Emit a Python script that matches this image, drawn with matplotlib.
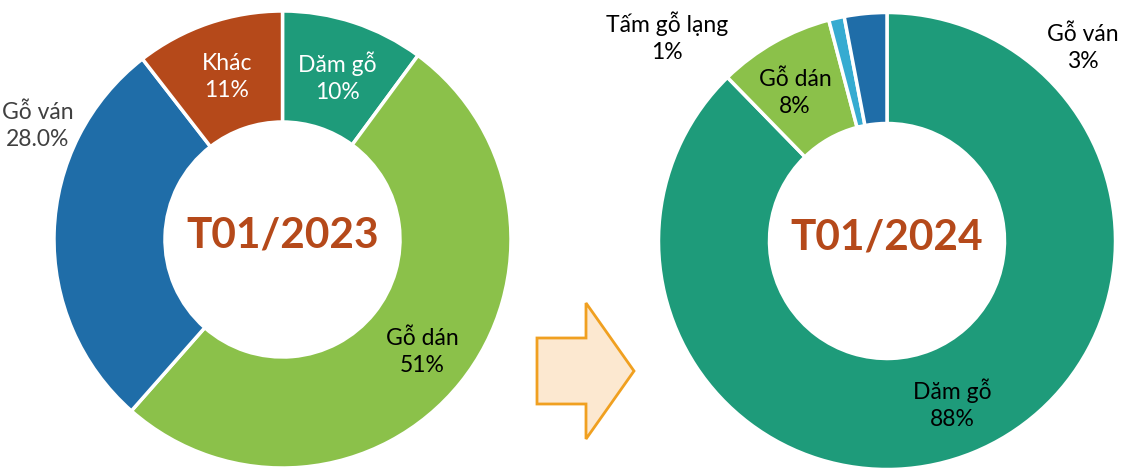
import numpy as np
import matplotlib
matplotlib.use('Agg')
import matplotlib.pyplot as plt
from matplotlib.patches import Polygon

plt.rcParams['font.family'] = ['Lato', 'Noto Sans', 'DejaVu Sans']

# --- data ---
cats_2023 = ['Dăm gỗ', 'Gỗ dán', 'Gỗ ván', 'Khác']
vals_2023 = [10.1, 51.4, 28.0, 10.5]
pct_2023 = ['10%', '51%', '28.0%', '11%']

cats_2024 = ['Dăm gỗ', 'Gỗ dán', 'Tấm gỗ lạng', 'Gỗ ván']
vals_2024 = [87.7, 8.2, 1.1, 3.0]
pct_2024 = ['88%', '8%', '1%', '3%']

colors = {
    'Dăm gỗ': '#1E9B7A',
    'Gỗ dán': '#8BC14A',
    'Gỗ ván': '#1F6DA8',
    'Khác': '#B5491A',
    'Tấm gỗ lạng': '#36ABD1',
}
title_color = '#B5491A'

W, H = 1140, 470
fig = plt.figure(figsize=(W / 100, H / 100), dpi=100)
ax = fig.add_axes([0, 0, 1, 1])


def donut(cx, cy, vals, cats):
    # cy is pixel row from top
    ax.pie(vals, colors=[colors[c] for c in cats], startangle=90, counterclock=False,
           center=(cx, H - cy), radius=228.5,
           wedgeprops=dict(width=111, edgecolor='white', linewidth=2.5))


donut(282.5, 239.5, vals_2023, cats_2023)
donut(887, 241, vals_2024, cats_2024)

# data labels (pixel positions from top-left)
lbl_2023 = {
    'Dăm gỗ': ((337, 77), 'white'),
    'Khác': ((227, 77), 'white'),
    'Gỗ ván': ((38, 126), '#404040'),
    'Gỗ dán': ((422, 352), 'black'),
}
for c, p in zip(cats_2023, pct_2023):
    (x, y), col = lbl_2023[c]
    ax.text(x, H - y, f'{c}\n{p}', ha='center', va='center', fontsize=16.5,
            color=col, linespacing=1.35)

lbl_2024 = {
    'Dăm gỗ': ((952, 404), 'black'),
    'Gỗ dán': ((795, 93), 'black'),
    'Tấm gỗ lạng': ((667, 37), 'black'),
    'Gỗ ván': ((1083, 48), 'black'),
}
for c, p in zip(cats_2024, pct_2024):
    (x, y), col = lbl_2024[c]
    ax.text(x, H - y, f'{c}\n{p}', ha='center', va='center', fontsize=16.5,
            color=col, linespacing=1.35)

ax.text(282.5, H - 236, 'T01/2023', ha='center', va='center', fontsize=30.5,
        fontweight='bold', color=title_color)
ax.text(887, H - 238, 'T01/2024', ha='center', va='center', fontsize=30.5,
        fontweight='bold', color=title_color)

# block arrow between the two charts
arrow_px = [(537, 338), (586, 338), (586, 303), (634, 371),
            (586, 439), (586, 404), (537, 404)]
ax.add_patch(Polygon([(x, H - y) for x, y in arrow_px], closed=True,
                     facecolor='#FCE8D0', edgecolor='#F0A020', linewidth=2))

ax.set_xlim(0, W)
ax.set_ylim(0, H)
ax.set_aspect('equal')
ax.set_axis_off()

fig.savefig('out.png', dpi=100)
